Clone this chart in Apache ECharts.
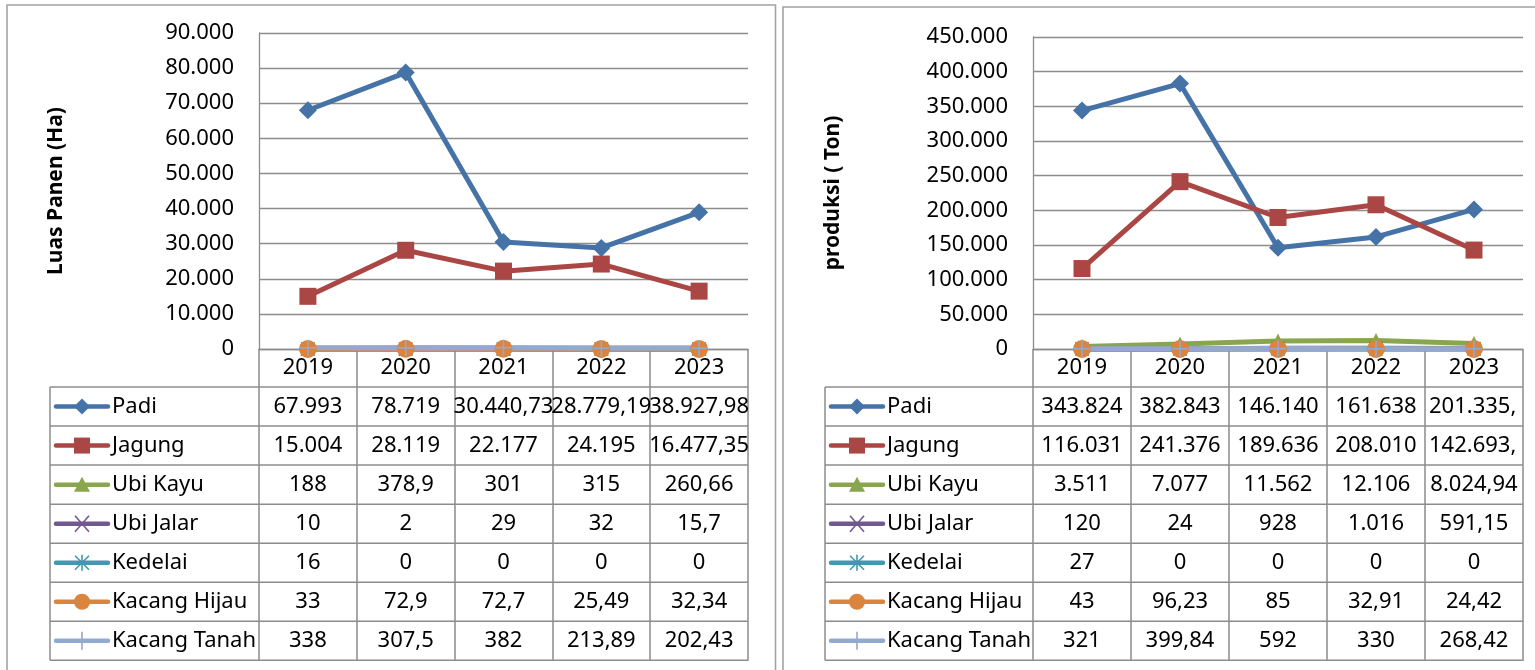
<!DOCTYPE html>
<html>
<head>
<meta charset="utf-8">
<script src="https://cdn.jsdelivr.net/npm/echarts@6/dist/echarts.min.js"></script>
<style>
  html, body { margin: 0; padding: 0; background: #fff; }
  #main { width: 1535px; height: 670px; }
</style>
</head>
<body>
<div id="main"></div>
<script>
var years = ['2019', '2020', '2021', '2022', '2023'];
var crops = ['Padi', 'Jagung', 'Ubi Kayu', 'Ubi Jalar', 'Kedelai', 'Kacang Hijau', 'Kacang Tanah'];

// luas panen (Ha)
var luasPadi = [67993, 78719, 30440.73, 28779.19, 38927.98];
var luasJagung = [15004, 28119, 22177, 24195, 16477.35];
var luasUbiKayu = [188, 378.9, 301, 315, 260.66];
var luasUbiJalar = [10, 2, 29, 32, 15.7];
var luasKedelai = [16, 0, 0, 0, 0];
var luasKacangHijau = [33, 72.9, 72.7, 25.49, 32.34];
var luasKacangTanah = [338, 307.5, 382, 213.89, 202.43];

// produksi (Ton)
var prodPadi = [343824, 382843, 146140, 161638, 201335.52];
var prodJagung = [116031, 241376, 189636, 208010, 142693.48];
var prodUbiKayu = [3511, 7077, 11562, 12106, 8024.94];
var prodUbiJalar = [120, 24, 928, 1016, 591.15];
var prodKedelai = [27, 0, 0, 0, 0];
var prodKacangHijau = [43, 96.23, 85, 32.91, 24.42];
var prodKacangTanah = [321, 399.84, 592, 330, 268.42];

var luasMax = 90000, luasStep = 10000;
var prodMax = 450000, prodStep = 50000;

var luasData = [luasPadi, luasJagung, luasUbiKayu, luasUbiJalar, luasKedelai, luasKacangHijau, luasKacangTanah];
var prodData = [prodPadi, prodJagung, prodUbiKayu, prodUbiJalar, prodKedelai, prodKacangHijau, prodKacangTanah];

var FONT = 'Noto Sans';
var LINE_GRAY = '#8c8c8c';
var colors = ['#4572A7', '#AA4643', '#89A54E', '#71588F', '#4198AF', '#DB843D', '#93A9CF'];
var symbols = [
  'path://M5,0L10,5L5,10L0,5Z',
  'path://M0,0L10,0L10,10L0,10Z',
  'path://M5,0L10,10L0,10Z',
  'path://M0,0L10,10M10,0L0,10',
  'path://M5,0L5,10M0,0L10,10M10,0L0,10',
  'circle',
  'path://M5,0L5,10M0,5L10,5'
];
var strokeOnly = [false, false, false, true, true, false, true];
var symSize = [18, 17, 15, 13, 13, 18, 16];

// angka gaya Indonesia: 67.993 / 30.440,73
function fmt(v) {
  var s = (Math.round(v * 100) / 100).toString().split('.');
  var ip = s[0].replace(/\B(?=(\d{3})+(?!\d))/g, '.');
  return s[1] ? ip + ',' + s[1] : ip;
}

function makeSeries(list, idx) {
  return list.map(function (d, i) {
    return {
      name: crops[i],
      type: 'line',
      xAxisIndex: idx,
      yAxisIndex: idx,
      data: d,
      symbol: symbols[i],
      symbolSize: symSize[i],
      showAllSymbol: true,
      clip: false,
      lineStyle: { color: colors[i], width: 5 },
      itemStyle: { color: colors[i], borderColor: colors[i], borderWidth: strokeOnly[i] ? 1.6 : 0 },
      emphasis: { disabled: true }
    };
  });
}

function yAxisOf(idx, name, max, step, gap) {
  return {
    type: 'value', gridIndex: idx, min: 0, max: max, interval: step,
    name: name, nameLocation: 'middle', nameRotate: 90, nameGap: gap,
    nameTextStyle: { fontFamily: FONT, fontSize: 21, fontWeight: 'bold', color: '#000' },
    axisLine: { show: true, lineStyle: { color: LINE_GRAY, width: 1.3 } },
    axisTick: { show: false },
    splitLine: { lineStyle: { color: LINE_GRAY, width: 1.3 } },
    axisLabel: { fontFamily: FONT, fontSize: 22, color: '#000', margin: 25, formatter: function (v) { return fmt(v); } }
  };
}

function xAxisOf(idx) {
  return {
    type: 'category', gridIndex: idx, data: years, boundaryGap: true,
    axisLine: { lineStyle: { color: LINE_GRAY, width: 1.3 } },
    axisTick: { show: true, length: 312, lineStyle: { color: LINE_GRAY, width: 1.5 } },
    axisLabel: { fontFamily: FONT, fontSize: 22, color: '#000', margin: 8 }
  };
}

var chart = echarts.init(document.getElementById('main'));
chart.setOption({
  animation: false,
  backgroundColor: '#fff',
  grid: [
    { left: 259, top: 33, width: 489, height: 316 },
    { left: 1033, top: 37, width: 490, height: 312 }
  ],
  xAxis: [xAxisOf(0), xAxisOf(1)],
  yAxis: [
    yAxisOf(0, 'Luas Panen (Ha)', luasMax, luasStep, 192),
    yAxisOf(1, 'produksi ( Ton)', prodMax, prodStep, 189)
  ],
  series: makeSeries(luasData, 0).concat(makeSeries(prodData, 1))
});

// legend marker kecil di kolom kiri tabel
function legendMark(r, mx, my, col) {
  var h = 8;
  var seg = function (a, b, c, d) {
    return { type: 'line', shape: { x1: a, y1: b, x2: c, y2: d }, style: { stroke: col, lineWidth: 1.6 }, z: 7 };
  };
  switch (r) {
    case 0: return [{ type: 'polygon', shape: { points: [[mx, my - h], [mx + h, my], [mx, my + h], [mx - h, my]] }, style: { fill: col }, z: 7 }];
    case 1: return [{ type: 'rect', shape: { x: mx - 8, y: my - 8, width: 16, height: 16 }, style: { fill: col }, z: 7 }];
    case 2: return [{ type: 'polygon', shape: { points: [[mx, my - h], [mx + h, my + 7], [mx - h, my + 7]] }, style: { fill: col }, z: 7 }];
    case 3: return [seg(mx - 7, my - 8, mx + 7, my + 8), seg(mx + 7, my - 8, mx - 7, my + 8)];
    case 4: return [seg(mx, my - 8, mx, my + 8), seg(mx - 7, my - 7, mx + 7, my + 7), seg(mx + 7, my - 7, mx - 7, my + 7)];
    case 5: return [{ type: 'circle', shape: { cx: mx, cy: my, r: 8 }, style: { fill: col }, z: 7 }];
    default: return [seg(mx, my - 9, mx, my + 9)];
  }
}

// tabel data di bawah tiap grafik
var ctx = document.createElement('canvas').getContext('2d');
ctx.font = '22px "' + FONT + '"';

var tables = [
  { idx: 0, left: 50, key0: 56, key1: 108, data: luasData },
  { idx: 1, left: 825, key0: 831, key1: 883, data: prodData }
];
var rowH = 39.05;
var graphics = [
  { type: 'rect', shape: { x: 7, y: 5, width: 768.5, height: 720 }, style: { fill: null, stroke: '#a3a3a3', lineWidth: 1.6 }, z: 0 },
  { type: 'rect', shape: { x: 783, y: 7, width: 800, height: 720 }, style: { fill: null, stroke: '#a3a3a3', lineWidth: 1.6 }, z: 0 }
];

tables.forEach(function (t) {
  var cx = years.map(function (y) { return chart.convertToPixel({ xAxisIndex: t.idx }, y); });
  var band = cx[1] - cx[0];
  var right = cx[cx.length - 1] + band / 2;
  var axisY = chart.convertToPixel({ yAxisIndex: t.idx }, 0);
  var top = axisY + 38;
  var bottom = top + crops.length * rowH;

  for (var k = 0; k <= crops.length; k++) {
    graphics.push({ type: 'line', shape: { x1: t.left, y1: top + k * rowH, x2: right, y2: top + k * rowH },
      style: { stroke: LINE_GRAY, lineWidth: 1.5 }, z: 5 });
  }
  graphics.push({ type: 'line', shape: { x1: t.left, y1: top, x2: t.left, y2: bottom },
    style: { stroke: LINE_GRAY, lineWidth: 1.5 }, z: 5 });

  crops.forEach(function (c, r) {
    var yc = top + (r + 0.5) * rowH;
    var col = colors[r];
    graphics.push({ type: 'line', shape: { x1: t.key0, y1: yc, x2: t.key1, y2: yc },
      style: { stroke: col, lineWidth: 4.5, lineCap: 'round' }, z: 6 });
    graphics = graphics.concat(legendMark(r, (t.key0 + t.key1) / 2, yc, col));
    graphics.push({ type: 'text', x: t.key1 + 4, y: yc,
      style: { text: c, fontFamily: FONT, fontSize: 22, fill: '#000', align: 'left', verticalAlign: 'middle' }, z: 7 });

    t.data[r].forEach(function (v, j) {
      var txt = fmt(v);
      var w = ctx.measureText(txt).width;
      var x = cx[j], align = 'center';
      if (j === years.length - 1 && w > band + 3) {
        while (txt.length && ctx.measureText(txt).width > band - 6) txt = txt.slice(0, -1);
        x = cx[j] - band / 2 + 4;
        align = 'left';
      }
      graphics.push({ type: 'text', x: x, y: yc,
        style: { text: txt, fontFamily: FONT, fontSize: 22, fill: '#000', align: align, verticalAlign: 'middle' }, z: 7 });
    });
  });
});

chart.setOption({ graphic: graphics });
</script>
</body>
</html>
